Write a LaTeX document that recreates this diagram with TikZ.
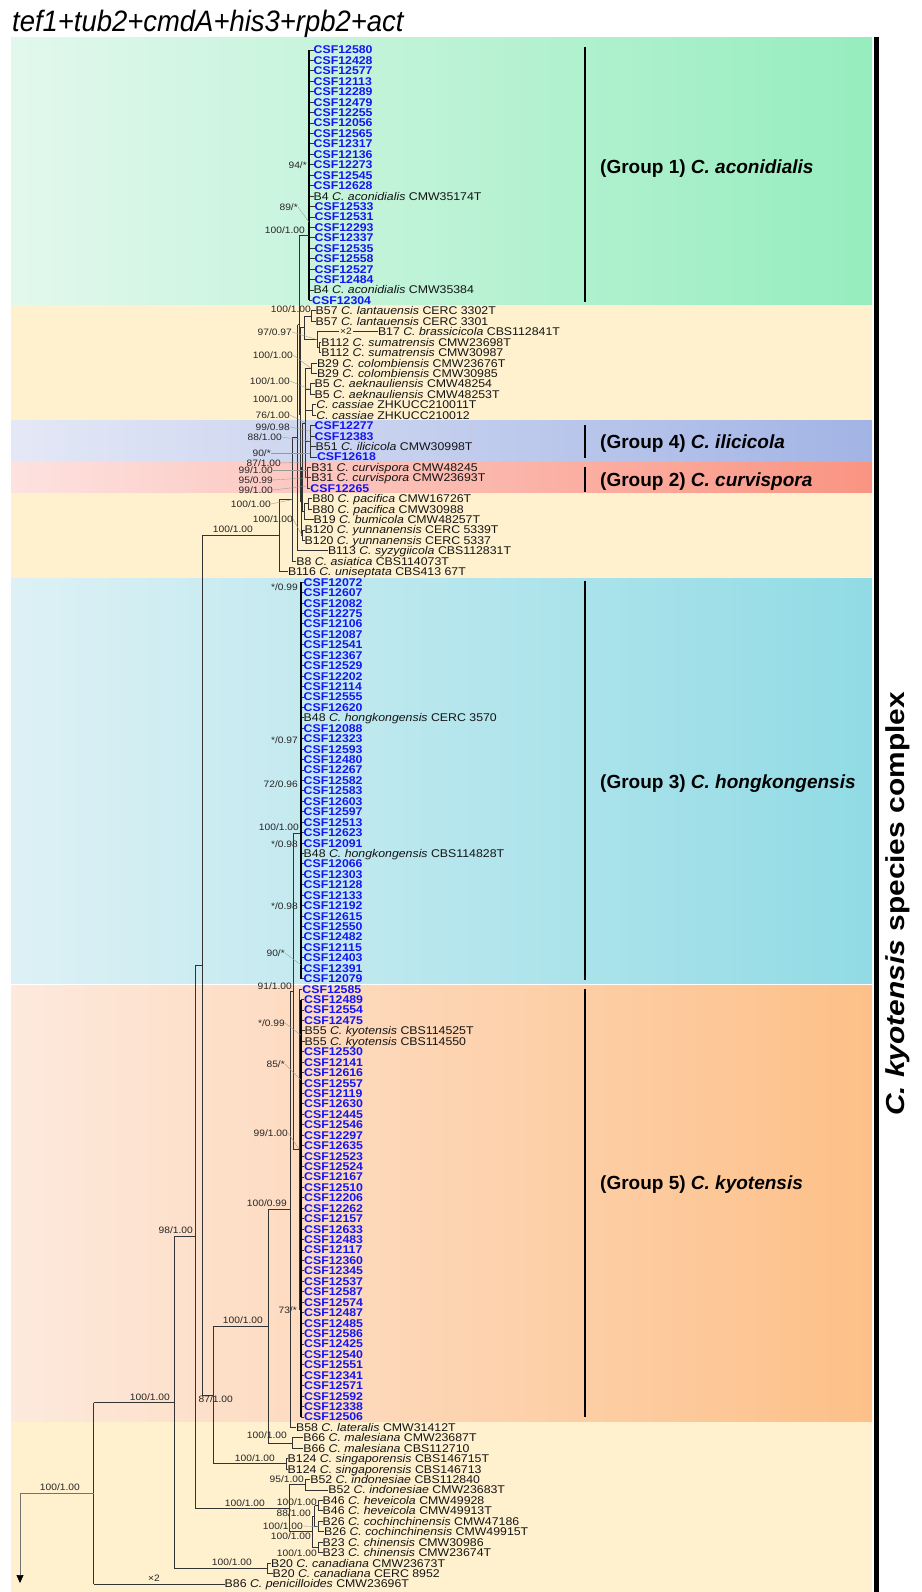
\documentclass[tikz,border=0pt]{standalone}
\usepackage{fontspec}
\setmainfont{Liberation Sans}
\newfontfamily\labfont{Liberation Sans}[FakeStretch=1.1]
\newfontfamily\grpfont{Liberation Sans}
\newfontfamily\titfont{Liberation Sans}[FakeStretch=0.93]
\newfontfamily\cplxfont{Liberation Sans}[FakeStretch=1.15]
\usetikzlibrary{arrows.meta,calc}
\definecolor{csfblue}{RGB}{20,20,245}
\definecolor{cream}{RGB}{255,241,206}
\definecolor{gAL}{RGB}{226,248,237}\definecolor{gAR}{RGB}{150,237,190}
\definecolor{gDL}{RGB}{228,232,246}\definecolor{gDR}{RGB}{162,180,229}
\definecolor{gBL}{RGB}{253,226,224}\definecolor{gBR}{RGB}{250,148,130}
\definecolor{gCL}{RGB}{221,241,245}\definecolor{gCR}{RGB}{145,219,229}
\definecolor{gEL}{RGB}{253,233,221}\definecolor{gER}{RGB}{253,192,136}
\newcommand\RY[1]{50+(#1-1)*10.435}
\tikzset{
 br/.style={line width=0.9pt, draw=black!80},
 thk/.style={line width=2pt, draw=black},
 lead/.style={line width=0.35pt, draw=black!40},
 csf/.style={anchor=west, inner sep=0pt, text height=7.9pt, text depth=0pt, font=\labfont\fontsize{11.2}{12}\selectfont\bfseries, text=csfblue},
 blk/.style={anchor=west, inner sep=0pt, text height=7.9pt, text depth=0pt, font=\labfont\fontsize{11.2}{12}\selectfont, text=black!92},
 sup/.style={anchor=east, inner sep=0pt, text height=6.6pt, text depth=0pt, font=\labfont\fontsize{9.3}{10}\selectfont, text=black!85},
 grp/.style={anchor=west, inner sep=0pt, text height=13.6pt, text depth=0pt, font=\grpfont\fontsize{19}{20}\selectfont\bfseries},
 gbar/.style={line width=1.2pt, draw=black},
}
% leaf macros
\newcommand\csl[4]{\node[csf] (L#1) at (#3-0.5,{\RY{#1}}) {CSF#2};\draw[br] (#4 |- L#1.west) -- (L#1.west);}
\newcommand\bkl[6]{\node[blk] (L#1) at (#5-0.5,{\RY{#1}}) {#2\textit{C. #3} #4};\draw[br] (#6 |- L#1.west) -- (L#1.west);}
\newcommand\elb[2]{\draw[br] (#1 |- #2) -- (#2);}
\newcommand\vln[3]{\draw[br] (#1 |- #2) -- (#1 |- #3);}
\newcommand\suplab[4]{\node[sup] (#1) at (#2,#3) {#4};}
\begin{document}
\begin{tikzpicture}[x=1pt,y=-1pt]
\useasboundingbox (0,0) rectangle (921,1592);
% ---------- background bands
\shade[left color=gAL, right color=gAR] (11,37.5) rectangle (872,304.5);
\fill[cream] (11,304.5) rectangle (872,420);
\shade[left color=gDL, right color=gDR] (11,420) rectangle (872,461);
\shade[left color=gBL, right color=gBR] (11,462.4) rectangle (872,492.5);
\fill[cream] (11,492.5) rectangle (872,578.5);
\shade[left color=gCL, right color=gCR] (11,578.5) rectangle (872,983.5);
\shade[left color=gEL, right color=gER] (11,985) rectangle (872,1422);
\fill[cream] (11,1422) rectangle (872,1592);
% ---------- title and frame
\node[anchor=base west, inner sep=0pt, font=\titfont\fontsize{29.5}{30}\selectfont\itshape] (title) at (12,32) {tef1+tub2+cmdA+his3+rpb2+act};
\draw[line width=5pt] (876,37) -- (876,1592);
\node[rotate=90, inner sep=0pt, font=\cplxfont\fontsize{26}{28}\selectfont\bfseries] (cplx) at (898,904) {\textit{C. kyotensis} species complex};
% group bars and labels
\draw[gbar] (585,47) -- (585,302);
\draw[gbar] (585,425) -- (585,458);
\draw[gbar] (585,467) -- (585,492);
\draw[gbar] (585,581) -- (585,980);
\draw[gbar] (585,989) -- (585,1417);
\node[grp] (grp1) at (600,166.7) {(Group 1) \textit{C. aconidialis}};
\node[grp] (grp4) at (600,442) {(Group 4) \textit{C. ilicicola}};
\node[grp] (grp2) at (600,480) {(Group 2) \textit{C. curvispora}};
\node[grp] (grp3) at (600,782) {(Group 3) \textit{C. hongkongensis}};
\node[grp] (grp5) at (600,1183) {(Group 5) \textit{C. kyotensis}};
% ---------- internal node coordinates
\coordinate (G1) at (309,235);
\coordinate (B57) at (311,316.1);
\coordinate (B17n) at (317,339.6);
\coordinate (B112) at (319.5,347.4);
\coordinate (N1) at (304,327.9);
\coordinate (B29) at (311,368.3);
\coordinate (B5) at (310,389.2);
\coordinate (CAS) at (312,410);
\coordinate (G4) at (310,441.3);
\coordinate (G2) at (307,477.8);
\coordinate (Y) at (305.5,423);
\coordinate (B80) at (308,503.9);
\coordinate (Z) at (304,511.8);
\coordinate (X) at (302.8,467.4);
\coordinate (B120) at (302,535.2);
\coordinate (W) at (301.3,501.3);
\coordinate (V) at (300.2,414.6);
\coordinate (U) at (299,324.8);
\coordinate (T) at (297.5,437.9);
\coordinate (N293) at (292,499.6);
\coordinate (N278) at (279,535.7);
\coordinate (N202) at (202,965.4);
\coordinate (N213) at (213.5,1395);
\coordinate (B124) at (286,1463.9);
\coordinate (N268) at (268,1326.2);
\coordinate (B66) at (292,1443.1);
\coordinate (N290) at (290,1209.2);
\coordinate (NG35) at (293,991);
\coordinate (G3) at (301,833);
\coordinate (G5) at (299,1149);
\coordinate (G5b) at (300.8,1309);
\coordinate (N195) at (195,1236.8);
\coordinate (N289b) at (289,1508.3);
\coordinate (Nind) at (305,1484.8);
\coordinate (Nhcc) at (312,1531.8);
\coordinate (N88) at (314.5,1516.1);
\coordinate (B46) at (318.5,1505.7);
\coordinate (B26) at (318.5,1526.6);
\coordinate (B23) at (318.5,1547.4);
\coordinate (N174) at (174,1402.6);
\coordinate (B20) at (267,1568.3);
\coordinate (Root) at (93.6,1493.2);
\coordinate (OG) at (20,1493.2);
\coordinate (OGt) at (20,1583);
% ---------- leaves: group 1
\foreach \r/\n in {1/12580,2/12428,3/12577,4/12113,5/12289,6/12479,7/12255,8/12056,9/12565,10/12317,11/12136,12/12273,13/12545,14/12628}{\csl{\r}{\n}{314}{G1}}
\bkl{15}{B4 }{aconidialis}{CMW35174T}{314}{G1}
\foreach \r/\n in {16/12533,17/12531,18/12293,19/12337,20/12535,21/12558,22/12527,23/12484}{\csl{\r}{\n}{315}{G1}}
\bkl{24}{B4 }{aconidialis}{CMW35384}{314}{G1}
\csl{25}{12304}{312.5}{G1}
% ---------- leaves: middle clade
\bkl{26}{B57 }{lantauensis}{CERC 3302T}{316}{B57}
\bkl{27}{B57 }{lantauensis}{CERC 3301}{316}{B57}
\bkl{28}{B17 }{brassicicola}{CBS112841T}{378.3}{B17n}
\bkl{29}{B112 }{sumatrensis}{CMW23698T}{321.7}{B112}
\bkl{30}{B112 }{sumatrensis}{CMW30987}{321.7}{B112}
\bkl{31}{B29 }{colombiensis}{CMW23676T}{317.3}{B29}
\bkl{32}{B29 }{colombiensis}{CMW30985}{317.3}{B29}
\bkl{33}{B5 }{aeknauliensis}{CMW48254}{315}{B5}
\bkl{34}{B5 }{aeknauliensis}{CMW48253T}{315}{B5}
\bkl{35}{}{cassiae}{ZHKUCC210011T}{316.7}{CAS}
\bkl{36}{}{cassiae}{ZHKUCC210012}{316.7}{CAS}
\csl{37}{12277}{315}{G4}
\csl{38}{12383}{315}{G4}
\bkl{39}{B51 }{ilicicola}{CMW30998T}{316}{G4}
\csl{40}{12618}{317.3}{G4}
\bkl{41}{B31 }{curvispora}{CMW48245}{311.7}{G2}
\bkl{42}{B31 }{curvispora}{CMW23693T}{311.7}{G2}
\csl{43}{12265}{310.7}{G2}
\bkl{44}{B80 }{pacifica}{CMW16726T}{312.7}{B80}
\bkl{45}{B80 }{pacifica}{CMW30988}{312.7}{B80}
\bkl{46}{B19 }{bumicola}{CMW48257T}{314}{Z}
\bkl{47}{B120 }{yunnanensis}{CERC 5339T}{305}{B120}
\bkl{48}{B120 }{yunnanensis}{CERC 5337}{305}{B120}
\bkl{49}{B113 }{syzygiicola}{CBS112831T}{328.3}{T}
\bkl{50}{B8 }{asiatica}{CBS114073T}{296.7}{N293}
\bkl{51}{B116 }{uniseptata}{CBS413 67T}{288.3}{N278}
% ---------- leaves: group 3
\foreach \r/\n in {52/12072,53/12607,54/12082,55/12275,56/12106,57/12087,58/12541,59/12367,60/12529,61/12202,62/12114,63/12555,64/12620,66/12088,67/12323,68/12593,69/12480,70/12267,71/12582,72/12583,73/12603,74/12597,75/12513,76/12623,77/12091,79/12066,80/12303,81/12128,82/12133,83/12192,84/12615,85/12550,86/12482,87/12115,88/12403,89/12391,90/12079}{\csl{\r}{\n}{304}{G3}}
\bkl{65}{B48 }{hongkongensis}{CERC 3570}{304}{G3}
\bkl{78}{B48 }{hongkongensis}{CBS114828T}{304}{G3}
% ---------- leaves: group 5
\csl{91}{12585}{302.7}{G5}
\foreach \r/\n in {92/12489,93/12554,94/12475,97/12530,98/12141,99/12616,100/12557,101/12119,102/12630,103/12445,104/12546,105/12297,106/12635,107/12523,108/12524,109/12167,110/12510,111/12206,112/12262,113/12157,114/12633,115/12483,116/12117,117/12360,118/12345,119/12537,120/12587,121/12574,122/12487,123/12485,124/12586,125/12425,126/12540,127/12551,128/12341,129/12571,130/12592,131/12338,132/12506}{\csl{\r}{\n}{304.5}{G5b}}
\bkl{95}{B55 }{kyotensis}{CBS114525T}{305}{G5b}
\bkl{96}{B55 }{kyotensis}{CBS114550}{305}{G5b}
% ---------- leaves: lower clade
\bkl{133}{B58 }{lateralis}{CMW31412T}{296.4}{N290}
\bkl{134}{B66 }{malesiana}{CMW23687T}{303.6}{B66}
\bkl{135}{B66 }{malesiana}{CBS112710}{303.6}{B66}
\bkl{136}{B124 }{singaporensis}{CBS146715T}{288}{B124}
\bkl{137}{B124 }{singaporensis}{CBS146713}{288}{B124}
\bkl{138}{B52 }{indonesiae}{CBS112840}{310.7}{Nind}
\bkl{139}{B52 }{indonesiae}{CMW23683T}{328.6}{Nind}
\bkl{140}{B46 }{heveicola}{CMW49928}{323}{B46}
\bkl{141}{B46 }{heveicola}{CMW49913T}{323}{B46}
\bkl{142}{B26 }{cochinchinensis}{CMW47186}{323}{B26}
\bkl{143}{B26 }{cochinchinensis}{CMW49915T}{324.5}{B26}
\bkl{144}{B23 }{chinensis}{CMW30986}{323}{B23}
\bkl{145}{B23 }{chinensis}{CMW23674T}{323}{B23}
\bkl{146}{B20 }{canadiana}{CMW23673T}{271.4}{B20}
\bkl{147}{B20 }{canadiana}{CERC 8952}{273}{B20}
\bkl{148}{B86 }{penicilloides}{CMW23696T}{225}{Root}
% ---------- tree branches
\draw[thk] (G1 |- L1.west) -- (G1 |- L25.west);
\vln{B57}{L26.west}{L27.west}
\vln{B17n}{L28.west}{B112}\elb{B17n}{B112}
\vln{B112}{L29.west}{L30.west}
\vln{N1}{B57}{B17n}\elb{N1}{B57}\elb{N1}{B17n}
\vln{B29}{L31.west}{L32.west}
\vln{B5}{L33.west}{L34.west}
\vln{CAS}{L35.west}{L36.west}
\vln{G4}{L37.west}{L40.west}
\vln{G2}{L41.west}{L43.west}
\vln{Y}{B29}{G2}\elb{Y}{B29}\elb{Y}{B5}\elb{Y}{CAS}\elb{Y}{G4}\elb{Y}{G2}
\vln{B80}{L44.west}{L45.west}
\vln{Z}{B80}{L46.west}\elb{Z}{B80}
\vln{X}{Y}{Z}\elb{X}{Y}\elb{X}{Z}
\vln{B120}{L47.west}{L48.west}
\vln{W}{X}{B120}\elb{W}{X}\elb{W}{B120}
\vln{V}{N1}{W}\elb{V}{N1}\elb{V}{W}
\vln{U}{G1}{V}\elb{U}{G1}\elb{U}{V}
\vln{T}{U}{L49.west}\elb{T}{U}
\vln{N293}{T}{L50.west}\elb{N293}{T}
\vln{N278}{N293}{L51.west}\elb{N278}{N293}
\vln{N202}{N278}{N213}\elb{N202}{N278}\elb{N202}{N213}
\vln{N213}{N268}{B124}\elb{N213}{N268}\elb{N213}{B124}
\vln{B124}{L136.west}{L137.west}
\vln{N268}{N290}{B66}\elb{N268}{N290}\elb{N268}{B66}
\vln{B66}{L134.west}{L135.west}
\vln{N290}{NG35}{L133.west}\elb{N290}{NG35}
\vln{NG35}{G3}{G5}\elb{NG35}{G3}\elb{NG35}{G5}
\draw[thk] (G3 |- L52.west) -- (G3 |- L90.west);
\vln{G5}{L91.west}{G5b}\elb{G5}{G5b}
\draw[thk] (G5b |- L92.west) -- (G5b |- L132.west);
\vln{N195}{N202}{N289b}\elb{N195}{N202}\elb{N195}{N289b}
\vln{N289b}{Nind}{Nhcc}\elb{N289b}{Nind}\elb{N289b}{Nhcc}
\vln{Nind}{L138.west}{L139.west}
\vln{Nhcc}{N88}{B23}\elb{Nhcc}{N88}\elb{Nhcc}{B23}
\vln{N88}{B46}{B26}\elb{N88}{B46}\elb{N88}{B26}
\vln{B46}{L140.west}{L141.west}
\vln{B26}{L142.west}{L143.west}
\vln{B23}{L144.west}{L145.west}
\vln{N174}{N195}{B20}\elb{N174}{N195}\elb{N174}{B20}
\vln{B20}{L146.west}{L147.west}
\vln{Root}{N174}{L148.west}\elb{Root}{N174}
\draw[line width=0.6pt, draw=black!55] (Root) -- (OG);
\draw[line width=0.6pt, draw=black!55, -{Triangle[width=7pt,length=8pt,color=black]}] (OG) -- (OGt);
% ---------- support values
\suplab{s1}{307}{165}{94/*}
\suplab{s2}{298}{207}{89/*}
\suplab{s3}{305}{230}{100/1.00}
\suplab{s4}{311}{309}{100/1.00}
\suplab{s5}{292}{332}{97/0.97}
\suplab{s6}{293}{355}{100/1.00}
\suplab{s7}{290}{381}{100/1.00}
\suplab{s8}{293}{399}{100/1.00}
\suplab{s9}{290}{415}{76/1.00}
\suplab{s10}{290}{427}{99/0.98}
\suplab{s11}{282}{437}{88/1.00}
\suplab{s12}{271}{453}{90/*}
\suplab{s13}{281}{463}{87/1.00}
\suplab{s14}{273}{470}{99/1.00}
\suplab{s15}{273}{480}{95/0.99}
\suplab{s16}{273}{490}{99/1.00}
\suplab{s17}{271}{504}{100/1.00}
\suplab{s18}{293}{519}{100/1.00}
\suplab{s19}{253}{529}{100/1.00}
\suplab{s20}{298}{587}{*/0.99}
\suplab{s21}{298}{740}{*/0.97}
\suplab{s22}{298}{784}{72/0.96}
\suplab{s23}{299}{827}{100/1.00}
\suplab{s24}{298}{844}{*/0.98}
\suplab{s25}{298}{906}{*/0.98}
\suplab{s26}{285}{953}{90/*}
\suplab{s27}{292}{986}{91/1.00}
\suplab{s28}{285}{1023}{*/0.99}
\suplab{s29}{285}{1064}{85/*}
\suplab{s30}{288}{1133}{99/1.00}
\suplab{s31}{287}{1203}{100/0.99}
\suplab{s32}{193}{1230}{98/1.00}
\suplab{s33}{297}{1310}{73/*}
\suplab{s34}{263}{1320}{100/1.00}
\suplab{s35}{233}{1399}{87/1.00}
\suplab{s36}{170}{1397}{100/1.00}
\suplab{s37}{80}{1487}{100/1.00}
\suplab{s38}{287}{1435}{100/1.00}
\suplab{s39}{275}{1458}{100/1.00}
\suplab{s40}{304}{1479}{95/1.00}
\suplab{s41}{265}{1503}{100/1.00}
\suplab{s42}{317}{1502}{100/1.00}
\suplab{s43}{311}{1513}{88/1.00}
\suplab{s44}{303}{1526}{100/1.00}
\suplab{s45}{311}{1536}{100/1.00}
\suplab{s46}{317}{1553}{100/1.00}
\suplab{s47}{252}{1562}{100/1.00}
\node[sup, anchor=center] (x2a) at (154,1578) {×2};
\node[sup, anchor=center, fill=cream, inner xsep=1pt, text height=5pt] (x2b) at (346,332) {×2};
% ---------- leader lines
\draw[lead] (s2.east) -- (309,222);
\draw[lead] (s5.east) -- (B17n);
\draw[lead] (s6.east) -- (B29);
\draw[lead] (s7.east) -- (B5);
\draw[lead] (s9.east) -- (Y);
\draw[lead] (s10.east) -- (310,431);
\draw[lead] (s11.east) -- (G4);
\draw[lead] (s12.east) -- (310,453);
\draw[lead] (s13.east) -- (307,462);
\draw[lead] (s14.east) -- (307,470);
\draw[lead] (s15.east) -- (G2);
\draw[lead] (s16.east) -- (307,486);
\draw[lead] (s17.east) -- (N293);
\draw[lead] (s18.east) -- (B120);
\draw[lead] (s26.east) -- (301,965);
\draw[lead] (s28.east) -- (300.8,1035);
\draw[lead] (s29.east) -- (300.8,1080);
\draw[lead] (s30.east) -- (G5);
\draw[lead] (s44.east) -- (B26);
\end{tikzpicture}
\end{document}
